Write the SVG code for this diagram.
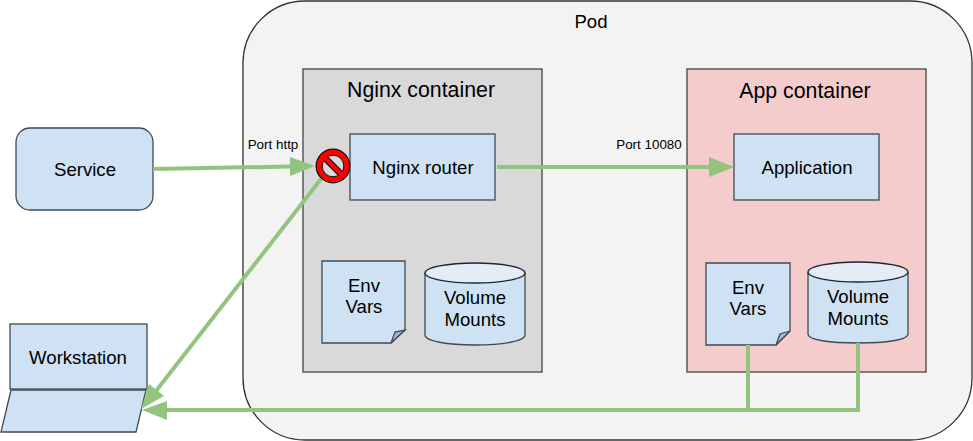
<svg xmlns="http://www.w3.org/2000/svg" width="973" height="441" viewBox="0 0 973 441">
<style>
text{font-family:"Liberation Sans",Arial,sans-serif;fill:#000;text-anchor:middle}
.l{font-size:18.6px}.t{font-size:21.300px}.s{font-size:13.400px}
.b{fill:#cfe2f3;stroke:#3f4a54;stroke-width:1.3}
.c{fill:none;stroke:#93c47d;stroke-width:4}
.h{fill:#93c47d;stroke:none}
.p{fill:#e3ecf7;stroke:#20262c;stroke-width:1.3}
</style>
<rect width="973" height="441" fill="#fff"/>
<g id="pod"><rect x="243" y="1" width="729" height="439" rx="62" fill="#f3f3f3" stroke="#333" stroke-width="1.3"/><text class="l" x="591" y="28">Pod</text></g>
<g id="nginx-container"><rect x="303" y="69" width="239" height="303" fill="#d9d9d9" stroke="#444" stroke-width="1.3"/><text class="t" x="421" y="97">Nginx container</text></g>
<g id="app-container"><rect x="687" y="69" width="239" height="303" fill="#f4cccc" stroke="#444" stroke-width="1.3"/><text class="t" x="805" y="98">App container</text></g>
<g id="service"><rect x="16" y="128" width="137" height="82" rx="14" class="b"/><text class="l" x="85" y="176">Service</text></g>
<g id="nginx-router"><rect x="350" y="134" width="145" height="66" class="b"/><text class="l" x="423" y="174">Nginx router</text></g>
<g id="application"><rect x="734" y="134" width="145" height="66" class="b"/><text class="l" x="807" y="174">Application</text></g>
<g id="env-vars-1"><path d="M322 261H405V330L391 343H322Z" class="b"/><path d="M391 343L395 332 405 330Z" fill="#a9b5c2" stroke="#3f4a54" stroke-width="1.3"/><text class="l" x="364" y="292">Env</text><text class="l" x="364" y="313">Vars</text></g>
<g id="volume-mounts-1"><path d="M425 273V335C425 341 447 345 475 345S525 341 525 335V273" class="b"/><ellipse cx="475" cy="273" rx="50" ry="10" class="p"/><text class="l" x="475" y="304">Volume</text><text class="l" x="475" y="326">Mounts</text></g>
<g id="env-vars-2"><path d="M706 263H790V331L776 345H706Z" class="b"/><path d="M776 345L780 334 790 331Z" fill="#a9b5c2" stroke="#3f4a54" stroke-width="1.3"/><text class="l" x="748" y="294">Env</text><text class="l" x="748" y="315">Vars</text></g>
<g id="volume-mounts-2"><path d="M808 272V334C808 340 830 343 858 343S908 340 908 334V272" class="b"/><ellipse cx="858" cy="272" rx="50" ry="10" class="p"/><text class="l" x="858" y="303">Volume</text><text class="l" x="858" y="325">Mounts</text></g>
<g id="workstation"><rect x="10" y="324" width="137" height="65" class="b"/><path d="M11 390H146L136 432H1Z" class="b"/><text class="l" x="78" y="364">Workstation</text></g>
<g id="connectors">
<path class="c" d="M153 169L290 166.500"/><path class="h" d="M290 157L315 166 290 176Z"/>
<path class="c" d="M497 167H710"/><path class="h" d="M709 157L734 167 709 177Z"/>
<path class="c" d="M321 179L156 391"/><path class="h" d="M141 409L149 384 164 396Z"/>
<path class="c" d="M748 345V410H165M858 343V410H748"/><path class="h" d="M167 401L142 410 167 420Z"/>
</g>
<g id="no-entry"><circle cx="333" cy="166" r="16.800" fill="#f00" stroke="#111" stroke-width="1.300"/><circle cx="333" cy="166" r="10.800" fill="#d9d9d9" stroke="#111" stroke-width="1"/><path d="M325.400 158.400L340.600 173.600" stroke="#111" stroke-width="6.500"/><path d="M324.500 157.500L341.500 174.500" stroke="#f00" stroke-width="4.500"/></g>
<g id="labels"><text class="s" x="273" y="149">Port http</text><text class="s" x="649" y="149">Port 10080</text></g>
</svg>
